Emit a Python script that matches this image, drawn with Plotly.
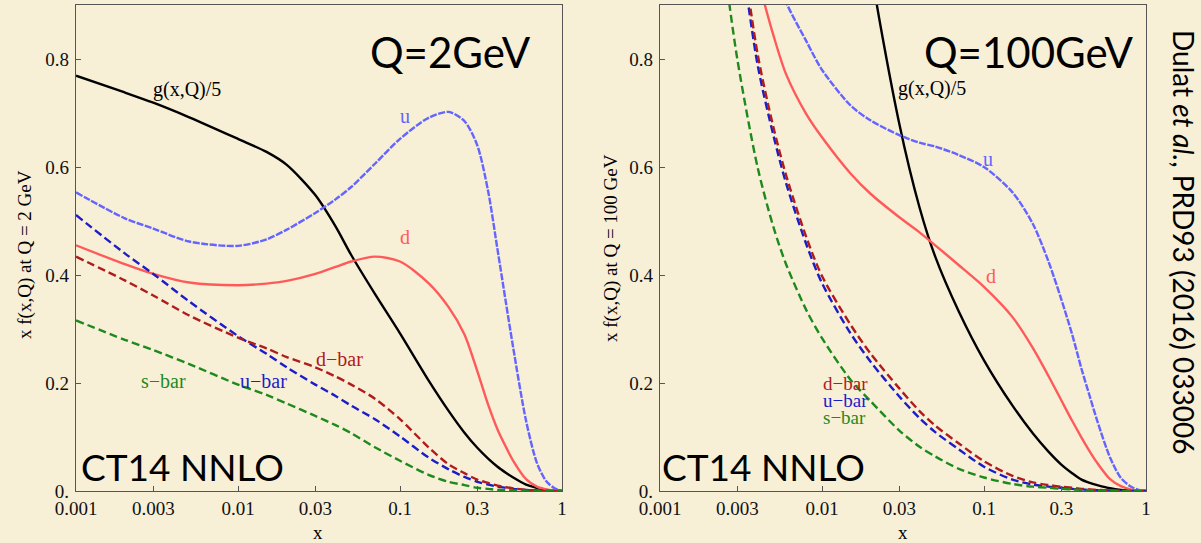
import numpy as np
import plotly.graph_objects as go

# ---------------- Q = 2 GeV panel ----------------
x_q2 = [0.001, 0.002, 0.003, 0.005, 0.01, 0.015, 0.02, 0.03, 0.04, 0.05, 0.07, 0.1,
        0.15, 0.2, 0.25, 0.3, 0.35, 0.4, 0.45, 0.5, 0.6, 0.7, 0.8, 0.9, 1.0]
g5_q2 = [0.769, 0.738, 0.719, 0.692, 0.652, 0.628, 0.604, 0.548, 0.490, 0.437, 0.365, 0.292,
         0.205, 0.148, 0.108, 0.080, 0.060, 0.045, 0.034, 0.025, 0.012, 0.006, 0.002, 0.0005, 0.0]
u_q2 = [0.553, 0.505, 0.486, 0.462, 0.454, 0.466, 0.484, 0.515, 0.540, 0.563, 0.606, 0.652,
        0.691, 0.702, 0.685, 0.640, 0.555, 0.447, 0.350, 0.265, 0.130, 0.052, 0.018, 0.005, 0.0]
d_q2 = [0.455, 0.420, 0.402, 0.386, 0.381, 0.384, 0.389, 0.402, 0.415, 0.425, 0.434, 0.425,
        0.385, 0.340, 0.290, 0.222, 0.160, 0.114, 0.082, 0.056, 0.022, 0.008, 0.003, 0.001, 0.0]
ubar_q2 = [0.511, 0.440, 0.402, 0.351, 0.287, 0.254, 0.229, 0.197, 0.176, 0.158, 0.133, 0.101,
           0.062, 0.040, 0.026, 0.017, 0.012, 0.008, 0.006, 0.004, 0.002, 0.001, 0.0, 0.0, 0.0]
dbar_q2 = [0.434, 0.390, 0.362, 0.325, 0.284, 0.264, 0.248, 0.229, 0.212, 0.197, 0.171, 0.133,
           0.081, 0.049, 0.033, 0.021, 0.015, 0.010, 0.007, 0.005, 0.002, 0.001, 0.0, 0.0, 0.0]
sbar_q2 = [0.316, 0.280, 0.261, 0.235, 0.197, 0.178, 0.162, 0.139, 0.122, 0.107, 0.081, 0.056,
           0.030, 0.017, 0.011, 0.006, 0.004, 0.002, 0.0015, 0.001, 0.0005, 0.0002, 0.0, 0.0, 0.0]

# ---------------- Q = 100 GeV panel ----------------
x_q100 = [0.0025, 0.003, 0.004, 0.005, 0.006, 0.008, 0.01, 0.015, 0.02, 0.03, 0.04,
          0.05, 0.07, 0.1, 0.15, 0.2, 0.25, 0.3, 0.35, 0.4, 0.45, 0.5, 0.6, 0.7, 0.8, 0.9, 1.0]
g5_q100 = [None, None, None, None, None, None, None, 1.30, 0.97, 0.68, 0.525,
           0.434, 0.332, 0.242, 0.158, 0.107, 0.073, 0.049, 0.033, 0.021, 0.015, 0.011, 0.005, 0.002, 0.001, 0.0, 0.0]
u_q100 = [None, None, None, 0.97, 0.905, 0.833, 0.780, 0.714, 0.686, 0.659, 0.645,
          0.638, 0.622, 0.600, 0.553, 0.495, 0.425, 0.355, 0.290, 0.226, 0.175, 0.130, 0.062, 0.024, 0.009, 0.002, 0.0]
d_q100 = [None, None, 0.95, 0.845, 0.772, 0.698, 0.655, 0.588, 0.550, 0.507, 0.479,
          0.455, 0.418, 0.378, 0.322, 0.265, 0.213, 0.168, 0.130, 0.099, 0.073, 0.052, 0.022, 0.009, 0.003, 0.001, 0.0]
ubar_q100 = [None, 1.05, 0.79, 0.66, 0.57, 0.457, 0.385, 0.292, 0.239, 0.175, 0.135,
             0.109, 0.077, 0.045, 0.021, 0.012, 0.008, 0.006, 0.004, 0.003, 0.002, 0.0015, 0.0007, 0.0003, 0.0001, 0.0, 0.0]
dbar_q100 = [None, 1.07, 0.81, 0.675, 0.585, 0.470, 0.398, 0.308, 0.254, 0.190, 0.148,
             0.121, 0.088, 0.055, 0.028, 0.016, 0.011, 0.008, 0.006, 0.004, 0.003, 0.002, 0.001, 0.0004, 0.0001, 0.0, 0.0]
sbar_q100 = [0.97, 0.80, 0.60, 0.49, 0.42, 0.335, 0.283, 0.206, 0.166, 0.112, 0.082,
             0.064, 0.041, 0.025, 0.013, 0.008, 0.006, 0.004, 0.003, 0.002, 0.0015, 0.001, 0.0005, 0.0002, 0.0001, 0.0, 0.0]

x_ticks = [0.001, 0.003, 0.01, 0.03, 0.1, 0.3, 1]
x_ticktext = ["0.001", "0.003", "0.01", "0.03", "0.1", "0.3", "1"]
y_ticks = [0, 0.2, 0.4, 0.6, 0.8]
y_ticktext = ["0.", "0.2", "0.4", "0.6", "0.8"]

C_G, C_U, C_D = "#000000", "#6464ff", "#ff5a5a"
C_UBAR, C_DBAR, C_SBAR = "#1c1cc8", "#b01c1c", "#1e8a1e"
BG = "#f8efd7"
SERIF = "Liberation Serif"
SANS = "Lato"

styles = [
    ("g5", C_G, None),
    ("u", C_U, "7px,1.5px"),
    ("d", C_D, None),
    ("ubar", C_UBAR, "8px,4px"),
    ("dbar", C_DBAR, "8px,4px"),
    ("sbar", C_SBAR, "8px,4px"),
]
panels = [
    (x_q2, {"g5": g5_q2, "u": u_q2, "d": d_q2, "ubar": ubar_q2, "dbar": dbar_q2, "sbar": sbar_q2}, "x", "y"),
    (x_q100, {"g5": g5_q100, "u": u_q100, "d": d_q100, "ubar": ubar_q100, "dbar": dbar_q100, "sbar": sbar_q100}, "x2", "y2"),
]

fig = go.Figure()
for xs, series, xa, ya in panels:
    for key, color, dash in styles:
        fig.add_trace(go.Scatter(
            x=xs, y=series[key], mode="lines", xaxis=xa, yaxis=ya,
            line=dict(color=color, width=2.4, dash=dash or "solid", shape="spline", smoothing=0.8),
            connectgaps=False, showlegend=False, hoverinfo="skip"))

W, H = 1201, 543
ydom = [1 - 491 / H, 1 - 5 / H]
axis_common = dict(showline=True, linecolor="#555555", linewidth=1.3, mirror=True,
                   showgrid=False, zeroline=False, ticks="inside", ticklen=5,
                   tickcolor="#555555", automargin=False,
                   tickfont=dict(family=SERIF, size=19, color="#111111"))

fig.update_layout(
    width=W, height=H, autosize=False,
    margin=dict(l=0, r=0, t=0, b=0),
    paper_bgcolor=BG, plot_bgcolor=BG,
    xaxis=dict(domain=[76 / W, 562 / W], type="log", range=[-3, 0],
               tickvals=x_ticks, ticktext=x_ticktext, anchor="y", **axis_common),
    yaxis=dict(domain=ydom, range=[0, 0.9], tickvals=y_ticks, ticktext=y_ticktext,
               anchor="x", ticklabelstandoff=2, **axis_common),
    xaxis2=dict(domain=[660 / W, 1146 / W], type="log", range=[-3, 0],
                tickvals=x_ticks, ticktext=x_ticktext, anchor="y2", **axis_common),
    yaxis2=dict(domain=ydom, range=[0, 0.9], tickvals=y_ticks, ticktext=y_ticktext,
                anchor="x2", ticklabelstandoff=2, **axis_common),
)

ann = []


def paper_text(text, px, py, size, family, angle=0, color="#000000"):
    ann.append(dict(text=text, x=px / W, y=1 - py / H, xref="paper", yref="paper",
                    showarrow=False, xanchor="center", yanchor="middle", textangle=angle,
                    font=dict(family=family, size=size, color=color)))


def curve_label(text, xv, yv, xa, ya, color, size=20):
    ann.append(dict(text=text, x=np.log10(xv), y=yv, xref=xa, yref=ya, showarrow=False,
                    xanchor="center", yanchor="middle", borderpad=0,
                    font=dict(family=SERIF, size=size, color=color)))


# axis titles
paper_text("x", 318, 532, 19, SERIF)
paper_text("x", 903, 532, 19, SERIF)
paper_text("x f(x,Q) at Q = 2 GeV", 25, 255, 19, SERIF, angle=-90)
paper_text("x f(x,Q) at Q = 100 GeV", 611, 248, 19, SERIF, angle=-90)

# panel headings
paper_text("Q=2GeV", 450, 52, 42, SANS)
paper_text("Q=100GeV", 1029, 52, 42, SANS)
paper_text("CT14 NNLO", 182, 466, 37, SANS)
paper_text("CT14 NNLO", 763, 466, 37, SANS)
paper_text("Dulat <i>et al.</i>, PRD93 (2016) 033006", 1184, 242, 28, SANS, angle=90)

# curve labels, Q = 2 GeV
curve_label("g(x,Q)/5", 0.00485, 0.744, "x", "y", C_G)
curve_label("u", 0.107, 0.694, "x", "y", C_U)
curve_label("d", 0.107, 0.470, "x", "y", C_D)
curve_label("d\u2212bar", 0.0425, 0.245, "x", "y", C_DBAR)
curve_label("u\u2212bar", 0.0143, 0.203, "x", "y", C_UBAR)
curve_label("s\u2212bar", 0.00346, 0.203, "x", "y", C_SBAR)

# curve labels, Q = 100 GeV (stacked trio of sea-quark labels)
curve_label("g(x,Q)/5", 0.048, 0.745, "x2", "y2", C_G)
curve_label("u", 0.106, 0.614, "x2", "y2", C_U)
curve_label("d", 0.110, 0.398, "x2", "y2", C_D)
curve_label("d\u2212bar", 0.0139, 0.199, "x2", "y2", C_DBAR, 19)
curve_label("u\u2212bar", 0.0139, 0.168, "x2", "y2", C_UBAR, 19)
curve_label("s\u2212bar", 0.0137, 0.137, "x2", "y2", C_SBAR, 19)

fig.update_layout(annotations=ann)
fig.write_html("out.html")
